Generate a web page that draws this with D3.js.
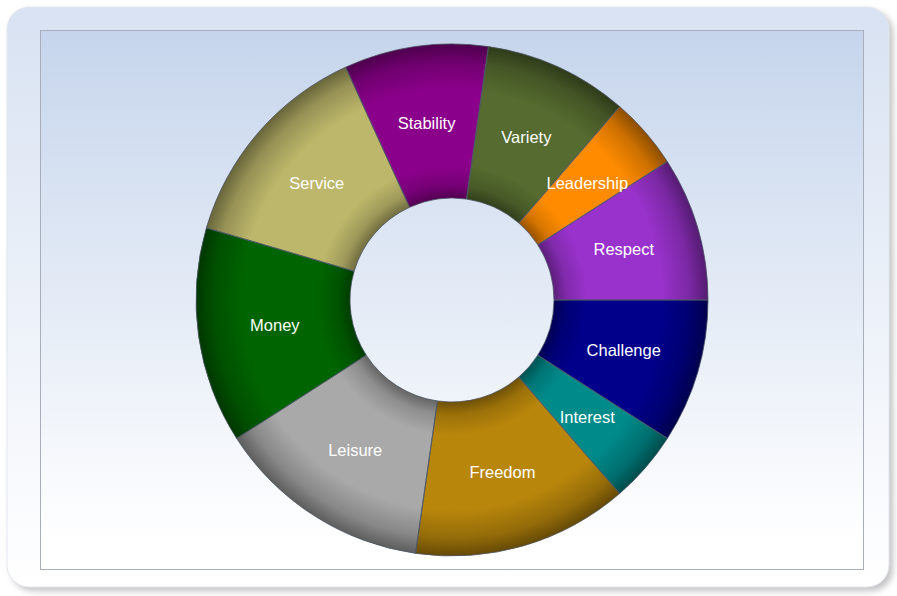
<!DOCTYPE html>
<html>
<head>
<meta charset="utf-8">
<script src="https://cdn.jsdelivr.net/npm/d3@7"></script>
<style>
  body { margin: 0; background: #ffffff; }
  svg { display: block; }
</style>
</head>
<body>
<svg id="chart" width="897" height="596"></svg>
<script>
// slices, clockwise from 3 o'clock
var categories = ["Challenge", "Interest", "Freedom", "Leisure", "Money", "Service", "Stability", "Variety", "Leadership", "Respect"];
var values = [2, 1, 3, 3, 3, 3, 2, 2, 1, 2];
var colors = ["#00008b", "#008b8b", "#b8860b", "#a9a9a9", "#006400", "#bdb76b", "#8b008b", "#556b2f", "#ff8c00", "#9932cc"];

DonutChart = function(_parentElement) {
    this.parentElement = _parentElement;
    this.width = 897;
    this.height = 596;
    this.cx = 452;
    this.cy = 300;
    this.outer = 256;
    this.inner = 102;
    this.initVis();
}

/*
 *  Frame, plot area, gradients
 */
DonutChart.prototype.initVis = function() {
    var vis = this;
    vis.svg = d3.select("#" + vis.parentElement);
    var defs = vis.svg.append("defs");

    var frameGrad = defs.append("linearGradient").attr("id", "frameGrad")
        .attr("x1", 0).attr("y1", 0).attr("x2", 0).attr("y2", 1);
    frameGrad.append("stop").attr("offset", 0).attr("stop-color", "#d8e2f2");
    frameGrad.append("stop").attr("offset", 1).attr("stop-color", "#ffffff");

    var plotGrad = defs.append("linearGradient").attr("id", "plotGrad")
        .attr("x1", 0).attr("y1", 0).attr("x2", 0).attr("y2", 1);
    plotGrad.append("stop").attr("offset", 0).attr("stop-color", "#c6d5ec");
    plotGrad.append("stop").attr("offset", 0.95).attr("stop-color", "#ffffff");

    var shadow = defs.append("filter").attr("id", "shadow")
        .attr("x", "-5%").attr("y", "-5%").attr("width", "110%").attr("height", "110%");
    shadow.append("feGaussianBlur").attr("stdDeviation", 3);

    // ring shading, dark at inner and outer rim
    var ringGrad = defs.append("radialGradient").attr("id", "ringGrad")
        .attr("gradientUnits", "userSpaceOnUse")
        .attr("cx", 0).attr("cy", 0).attr("r", vis.outer);
    var k = vis.inner / vis.outer;
    [[0, 0], [k, 0.4], [k + 0.05, 0.16], [k + 0.13, 0], [0.82, 0], [0.93, 0.2], [1, 0.45]].forEach(function(s) {
        ringGrad.append("stop").attr("offset", s[0]).attr("stop-color", "#000").attr("stop-opacity", s[1]);
    });

    vis.svg.append("rect")
        .attr("x", 11).attr("y", 11).attr("width", 882).attr("height", 580).attr("rx", 22)
        .attr("fill", "#9a9a9a").attr("opacity", 0.6).attr("filter", "url(#shadow)");
    vis.svg.append("rect")
        .attr("x", 7).attr("y", 7).attr("width", 882).attr("height", 580).attr("rx", 22)
        .attr("fill", "url(#frameGrad)").attr("stroke", "#e4e8ef").attr("stroke-width", 1);
    vis.svg.append("rect")
        .attr("x", 40.5).attr("y", 30.5).attr("width", 823).attr("height", 539)
        .attr("fill", "url(#plotGrad)").attr("stroke", "#a8afbb").attr("stroke-width", 1);

    vis.wrangleData();
}

DonutChart.prototype.wrangleData = function() {
    var vis = this;
    vis.displayData = categories.map(function(c, i) {
        return { name: c, value: values[i], color: colors[i] };
    });
    vis.updateVis();
}

/*
 *  The drawing function
 */
DonutChart.prototype.updateVis = function() {
    var vis = this;
    var pie = d3.pie().sort(null).value(function(d) { return d.value; })
        .startAngle(Math.PI / 2).endAngle(Math.PI / 2 + 2 * Math.PI);
    var arc = d3.arc().innerRadius(vis.inner).outerRadius(vis.outer);
    var arcs = pie(vis.displayData);

    var g = vis.svg.append("g").attr("transform", "translate(" + vis.cx + "," + vis.cy + ")");

    g.selectAll(".slice")
        .data(arcs)
        .enter()
        .append("path")
        .attr("class", "slice")
        .attr("d", arc)
        .attr("fill", function(d) { return d.data.color; });

    // shading overlay on the ring only
    g.append("path")
        .attr("d", arc({ startAngle: 0, endAngle: 2 * Math.PI }))
        .attr("fill", "url(#ringGrad)");

    g.selectAll(".edge")
        .data(arcs)
        .enter()
        .append("path")
        .attr("class", "edge")
        .attr("d", arc)
        .attr("fill", "none")
        .attr("stroke", "#4d5566")
        .attr("stroke-width", 0.8);

    g.selectAll(".label")
        .data(arcs)
        .enter()
        .append("text")
        .attr("class", "label")
        .attr("transform", function(d) { return "translate(" + arc.centroid(d) + ")"; })
        .attr("text-anchor", "middle")
        .attr("dy", "0.35em")
        .attr("fill", "#ffffff")
        .style("font-family", "'Liberation Sans', Arial, sans-serif")
        .style("font-size", "16.5px")
        .text(function(d) { return d.data.name; });
}

new DonutChart("chart");
</script>
</body>
</html>
